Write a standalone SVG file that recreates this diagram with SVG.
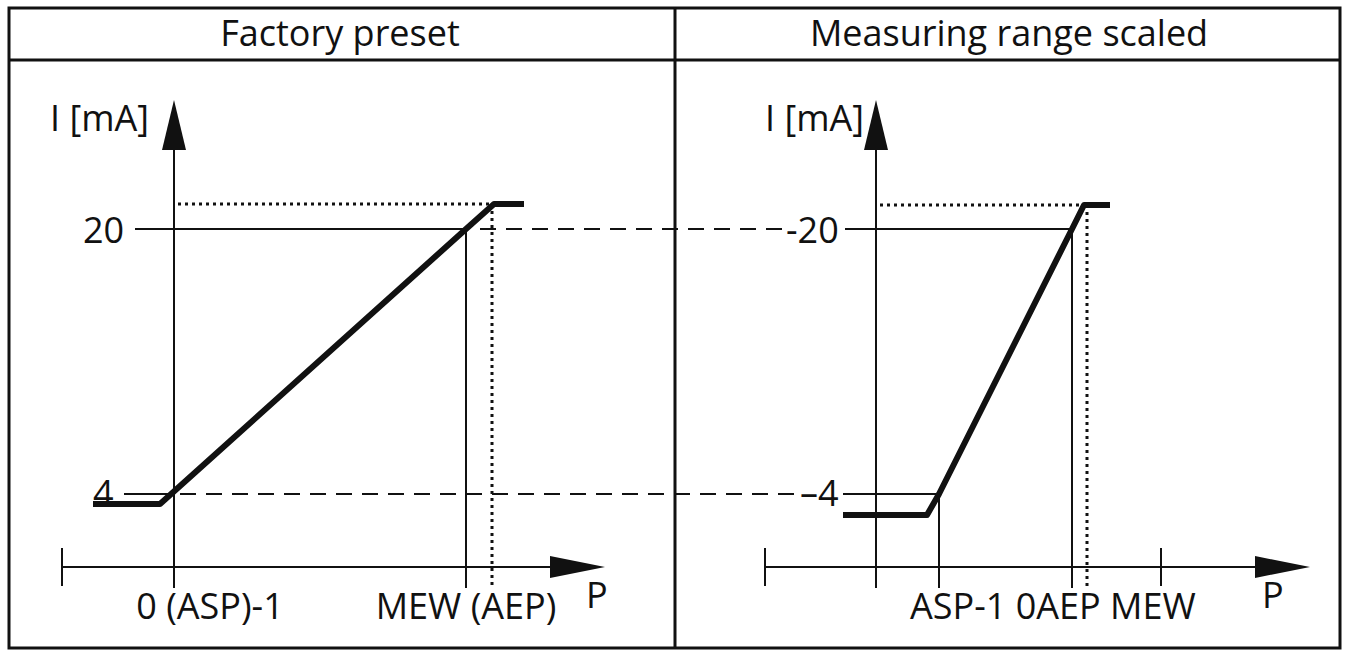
<svg xmlns="http://www.w3.org/2000/svg" width="1346" height="654" viewBox="0 0 1346 654">
<style>
text{font-family:"Open Sans","Liberation Sans",sans-serif;font-size:36px;fill:#111}
.t{stroke:#111;stroke-width:2;fill:none}
.k{stroke:#111;stroke-width:6;fill:none;stroke-linejoin:round}
.d{stroke:#111;stroke-width:2;fill:none;stroke-dasharray:16 10}
.o{stroke:#111;stroke-width:3;fill:none;stroke-dasharray:3 4}
.a{fill:#111}
</style>
<rect width="1346" height="654" fill="#fff"/>
<g id="frame">
<rect x="9" y="8" width="1331" height="640" fill="none" stroke="#111" stroke-width="3"/>
<line x1="9" y1="60" x2="1340" y2="60" stroke="#111" stroke-width="3"/>
<line x1="675" y1="8" x2="675" y2="648" stroke="#111" stroke-width="3"/>
<text x="340" y="46" text-anchor="middle">Factory preset</text>
<text x="1009" y="46" text-anchor="middle">Measuring range scaled</text>
</g>
<g id="left">
<line class="t" x1="174" y1="140" x2="174" y2="588"/>
<polygon class="a" points="174,100 162,150 186,150"/>
<line class="t" x1="62" y1="567" x2="565" y2="567"/>
<polygon class="a" points="605,567 550,556 550,578"/>
<line class="t" x1="62" y1="548" x2="62" y2="586"/>
<line class="t" x1="135" y1="229" x2="466" y2="229"/>
<line class="t" x1="124" y1="494" x2="172" y2="494"/>
<line class="t" x1="466" y1="229" x2="466" y2="588"/>
<line class="o" x1="178" y1="204" x2="494" y2="204"/>
<line class="o" x1="492" y1="204" x2="492" y2="588"/>
<polyline class="k" points="93,504 160,504 466,229 494,204 524,204"/>
<text x="83" y="243">20</text>
<text x="93" y="506">4</text>
<text x="50" y="131">I [mA]</text>
<text x="210" y="619" text-anchor="middle">0 (ASP)-1</text>
<text x="466" y="619" text-anchor="middle">MEW (AEP)</text>
<text x="586" y="608">P</text>
</g>
<g id="right">
<line class="t" x1="876" y1="140" x2="876" y2="588"/>
<polygon class="a" points="876,100 864,150 888,150"/>
<line class="t" x1="765" y1="567" x2="1270" y2="567"/>
<polygon class="a" points="1310,567 1255,556 1255,578"/>
<line class="t" x1="765" y1="548" x2="765" y2="586"/>
<line class="t" x1="1161" y1="548" x2="1161" y2="586"/>
<line class="t" x1="845" y1="229" x2="1072" y2="229"/>
<line class="t" x1="843" y1="494" x2="939" y2="494"/>
<line class="t" x1="939" y1="494" x2="939" y2="588"/>
<line class="t" x1="1072" y1="229" x2="1072" y2="588"/>
<line class="o" x1="880" y1="205" x2="1088" y2="205"/>
<line class="o" x1="1087" y1="205" x2="1087" y2="588"/>
<polyline class="k" points="843,515 927,515 939,494 1072,229 1084,205 1110,205"/>
<text x="786" y="243">-20</text>
<text x="800" y="506">–4</text>
<text x="765" y="131">I [mA]</text>
<text x="910" y="619">ASP-1 0AEP MEW</text>
<text x="1262" y="608">P</text>
</g>
<g id="connectors">
<line class="d" x1="480" y1="229" x2="788" y2="229"/>
<line class="d" x1="180" y1="494" x2="800" y2="494"/>
</g>
</svg>
